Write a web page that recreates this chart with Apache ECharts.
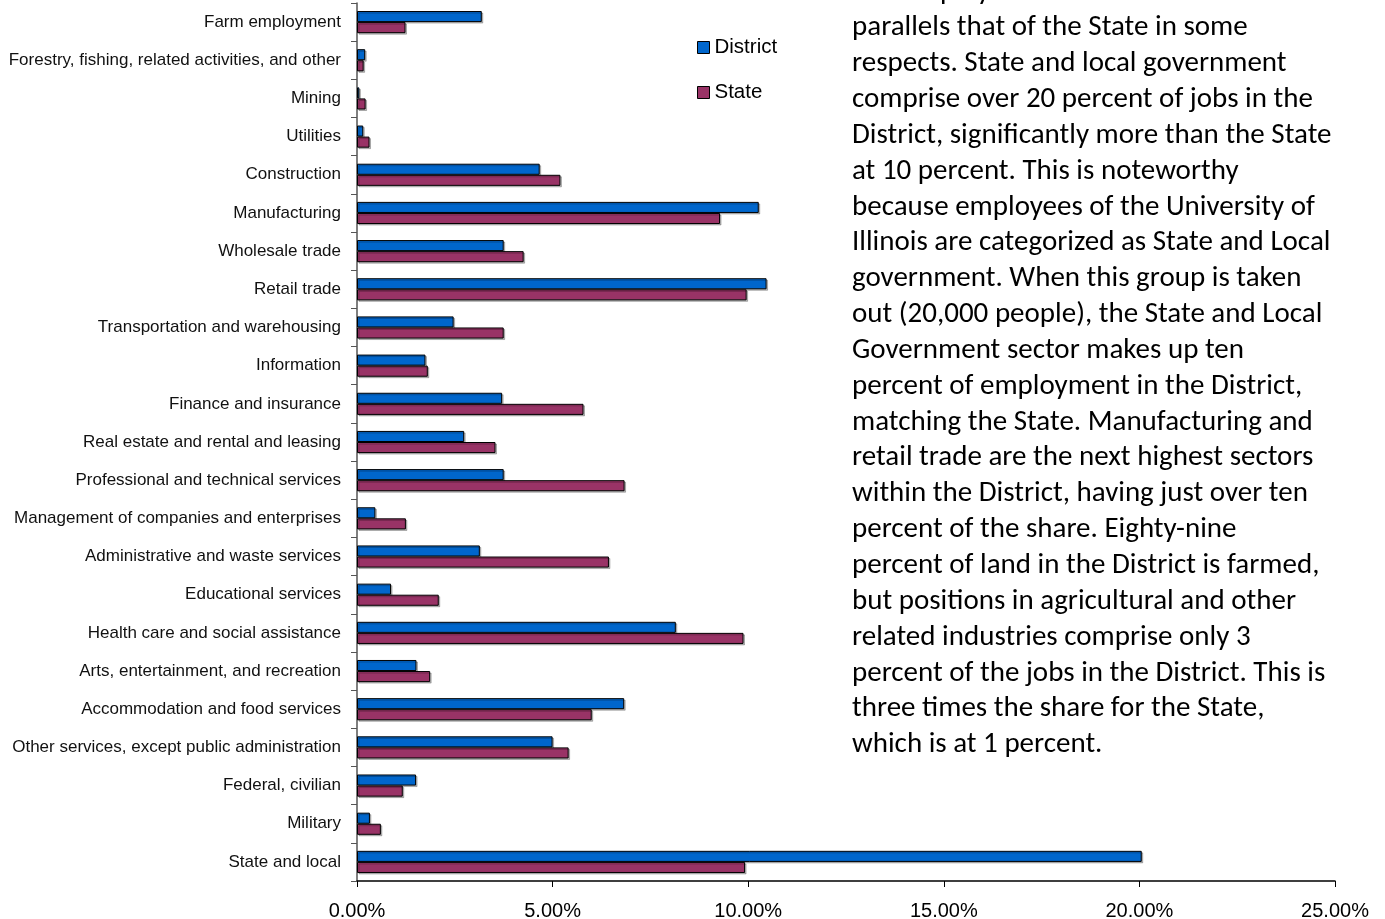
<!DOCTYPE html>
<html>
<head>
<meta charset="utf-8">
<script src="https://cdn.jsdelivr.net/npm/echarts@6/dist/echarts.min.js"></script>
<style>
html,body{margin:0;padding:0;background:#fff;}
#chart{width:1385px;height:919px;}
</style>
</head>
<body>
<div id="chart"></div>
<script>
var categories = [
  "Farm employment",
  "Forestry, fishing, related activities, and other",
  "Mining",
  "Utilities",
  "Construction",
  "Manufacturing",
  "Wholesale trade",
  "Retail trade",
  "Transportation and warehousing",
  "Information",
  "Finance and insurance",
  "Real estate and rental and leasing",
  "Professional and technical services",
  "Management of companies and enterprises",
  "Administrative and waste services",
  "Educational services",
  "Health care and social assistance",
  "Arts, entertainment, and recreation",
  "Accommodation and food services",
  "Other services, except public administration",
  "Federal, civilian",
  "Military",
  "State and local"
];
var districtValues = [3.19, 0.21, 0.06, 0.16, 4.67, 10.27, 3.75, 10.47, 2.47, 1.75, 3.71, 2.74, 3.75, 0.47, 3.14, 0.87, 8.15, 1.52, 6.83, 5.00, 1.51, 0.33, 20.06];
var stateValues    = [1.24, 0.17, 0.22, 0.32, 5.20, 9.28, 4.26, 9.96, 3.75, 1.81, 5.79, 3.54, 6.84, 1.25, 6.44, 2.09, 9.88, 1.87, 6.00, 5.41, 1.17, 0.61, 9.92];
var xTicks = [0, 5, 10, 15, 20, 25];
var seriesNames = ["District", "State"];
var paragraphLines = [
  "The employment",
  "parallels that of the State in some",
  "respects. State and local government",
  "comprise over 20 percent of jobs in the",
  "District, significantly more than the State",
  "at 10 percent. This is noteworthy",
  "because employees of the University of",
  "Illinois are categorized as State and Local",
  "government. When this group is taken",
  "out (20,000 people), the State and Local",
  "Government sector makes up ten",
  "percent of employment in the District,",
  "matching the State. Manufacturing and",
  "retail trade are the next highest sectors",
  "within the District, having just over ten",
  "percent of the share. Eighty-nine",
  "percent of land in the District is farmed,",
  "but positions in agricultural and other",
  "related industries comprise only 3",
  "percent of the jobs in the District. This is",
  "three times the share for the State,",
  "which is at 1 percent."
];

var chart = echarts.init(document.getElementById('chart'), null, {renderer: 'canvas'});

var textGraphics = paragraphLines.map(function (line, i) {
  return {
    type: 'text',
    x: 852,
    y: -7.85 + i * 35.85,
    style: {
      text: line,
      font: '29px Carlito, Lato, sans-serif',
      fill: '#000',
      textVerticalAlign: 'middle',
      verticalAlign: 'middle'
    }
  };
});

var barStyle = function (color) {
  return {
    color: color,
    borderColor: '#000',
    borderWidth: 1,
    shadowColor: 'rgba(0,0,0,0.25)',
    shadowOffsetX: 1.5,
    shadowOffsetY: 1.5,
    shadowBlur: 0
  };
};

chart.setOption({
  animation: false,
  backgroundColor: '#fff',
  grid: {left: 357, right: 50, top: 3, bottom: 38, containLabel: false, outerBoundsMode: 'none'},
  legend: {
    orient: 'vertical',
    left: 692,
    top: 32,
    itemWidth: 12,
    itemHeight: 12,
    itemGap: 24,
    icon: 'rect',
    data: seriesNames,
    textStyle: {fontFamily: 'Liberation Sans, Arial, sans-serif', fontSize: 20.5, color: '#000'},
    itemStyle: {borderColor: '#000', borderWidth: 1}
  },
  xAxis: {
    type: 'value',
    min: xTicks[0],
    max: xTicks[xTicks.length - 1],
    interval: xTicks[1] - xTicks[0],
    splitLine: {show: false},
    axisLine: {show: true, lineStyle: {color: '#000', width: 1.5}},
    axisTick: {show: true, length: 6, lineStyle: {color: '#000'}},
    axisLabel: {
      margin: 20,
      fontFamily: 'Liberation Sans, Arial, sans-serif',
      fontSize: 20,
      color: '#000',
      formatter: function (v) { return v.toFixed(2) + '%'; }
    }
  },
  yAxis: {
    type: 'category',
    inverse: true,
    data: categories,
    axisLine: {show: true, lineStyle: {color: '#555', width: 1.5}},
    axisTick: {show: true, length: 6, lineStyle: {color: '#555'}},
    axisLabel: {
      margin: 16,
      fontFamily: 'Liberation Sans Narrow, Arial Narrow, Liberation Sans, sans-serif',
      fontSize: 17,
      color: '#111'
    }
  },
  series: [
    {
      name: seriesNames[0],
      type: 'bar',
      data: districtValues,
      barGap: '0%',
      barCategoryGap: '42%',
      itemStyle: barStyle('#0066CC')
    },
    {
      name: seriesNames[1],
      type: 'bar',
      data: stateValues,
      barGap: '0%',
      barCategoryGap: '42%',
      itemStyle: barStyle('#993366')
    }
  ],
  graphic: textGraphics
});
</script>
</body>
</html>
